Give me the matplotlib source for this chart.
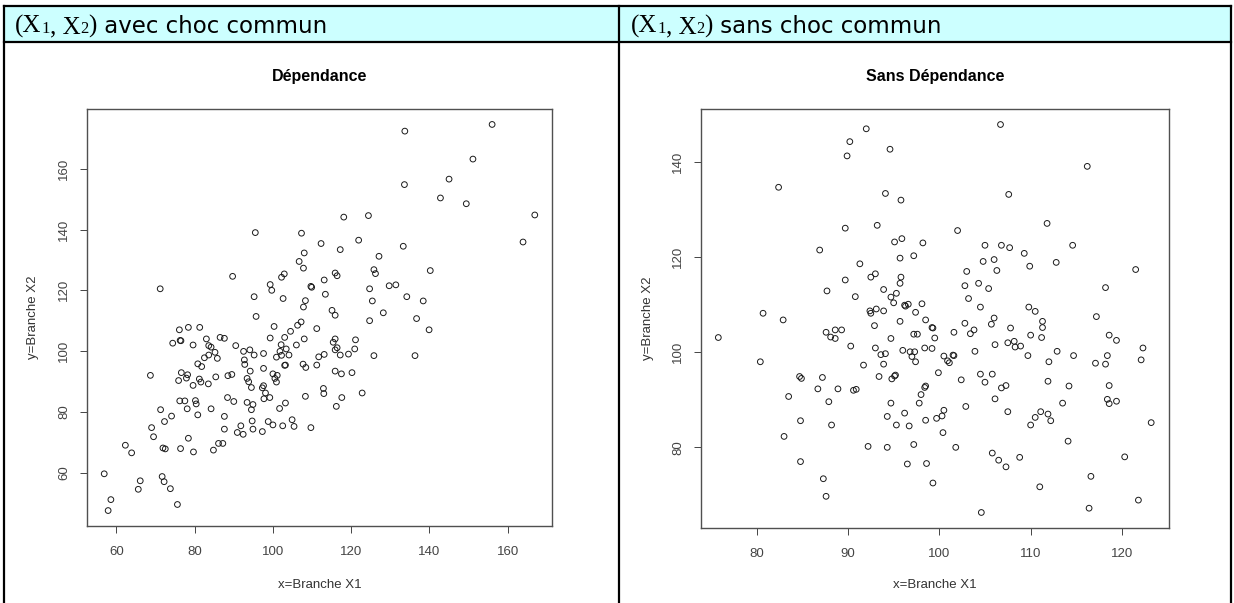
import matplotlib.pyplot as plt
from matplotlib.patches import Rectangle
from matplotlib.lines import Line2D

# Simulated branch amounts, with and without a common shock
dep_x = [108.0, 117.2, 127.1, 106.7, 107.8, 125.8, 126.2, 140.2, 115.9, 116.4, 102.9, 102.2,
         89.7, 99.3, 99.7, 109.7, 109.9, 113.1, 129.7, 131.4, 124.7, 71.2, 113.4, 95.2,
         102.6, 134.2, 108.3, 107.8, 125.4, 138.4, 115.1, 115.9, 128.2, 95.7, 136.7, 124.7,
         107.2, 106.3, 100.3, 104.5, 111.2, 139.9, 76.1, 78.4, 81.3, 76.3, 76.5, 74.4,
         79.6, 83.0, 86.5, 87.6, 83.6, 84.2, 90.5, 99.3, 103.0, 108.0, 115.9, 115.4,
         121.1, 106.0, 102.1, 103.4, 115.9, 116.4, 120.9, 94.1, 92.5, 85.2, 83.6, 82.5,
         85.8, 95.2, 97.6, 101.8, 100.9, 102.2, 104.1, 113.1, 111.7, 117.2, 119.3, 125.8,
         136.3, 92.7, 92.8, 80.8, 81.8, 97.6, 103.0, 103.2, 107.7, 108.4, 111.2, 94.2,
         115.9, 117.5, 120.2, 68.7, 76.6, 78.2, 77.9, 75.9, 81.2, 81.6, 79.6, 83.5,
         85.4, 88.5, 89.5, 93.4, 93.8, 100.0, 101.1, 100.5, 100.9, 94.5, 97.6, 97.3,
         98.1, 112.9, 113.0, 122.8, 108.3, 117.6, 88.4, 99.2, 97.7,
         95.5, 107.3, 112.3, 156.0, 133.7, 151.1, 145.0, 133.6, 142.8, 149.4, 166.9, 118.1,
         124.4, 163.9, 121.9, 133.3, 116.2, 109.7,
         76.2, 77.5, 80.2, 80.4, 78.1, 80.8, 84.2, 71.3, 72.3, 74.1, 69.0, 69.5,
         78.4, 76.4, 79.7, 71.9, 72.5, 62.3, 63.9, 56.9, 71.7, 72.2, 66.1, 65.6,
         73.8, 75.6, 58.6, 57.9, 87.6, 87.6, 84.8, 86.1, 87.2, 90.0, 90.9, 91.8,
         92.4, 93.4, 94.5, 94.9, 94.7, 94.9, 97.3, 98.8, 100.0, 101.7, 102.5, 103.2,
         104.9, 105.4]
dep_y = [132.3, 133.4, 131.2, 129.5, 127.3, 126.8, 125.5, 126.5, 125.7, 124.8, 125.4, 124.3,
         124.6, 121.9, 120.0, 121.3, 121.0, 123.4, 121.5, 121.8, 120.5, 120.5, 118.7, 117.9,
         117.3, 117.9, 116.6, 114.5, 116.5, 116.5, 113.4, 111.8, 112.6, 111.4, 110.7, 110.0,
         109.6, 108.5, 108.1, 106.5, 107.4, 107.0, 107.0, 107.8, 107.8, 103.5, 103.4, 102.6,
         102.0, 104.0, 104.5, 104.2, 101.8, 101.3, 101.8, 104.3, 104.5, 104.0, 104.0, 102.9,
         103.7, 102.0, 102.1, 100.7, 100.4, 101.1, 100.7, 100.4, 99.9, 99.6, 98.7, 97.8,
         97.6, 98.7, 99.2, 99.9, 98.0, 98.6, 98.7, 98.9, 98.1, 98.7, 99.0, 98.5,
         98.5, 97.1, 95.6, 95.8, 94.9, 94.3, 95.3, 95.4, 95.7, 94.6, 95.4, 93.4,
         93.4, 92.5, 92.9, 92.0, 92.9, 92.2, 91.1, 90.3, 90.8, 89.8, 88.7, 89.2,
         91.5, 91.9, 92.3, 91.0, 89.9, 92.5, 92.0, 91.0, 89.8, 88.0, 88.6, 87.9,
         86.2, 87.7, 86.0, 86.2, 85.1, 84.7, 84.7, 84.7, 84.3,
         139.0, 138.8, 135.4, 174.6, 172.4, 163.2, 156.6, 154.8, 150.4, 148.5, 144.8, 144.1,
         144.6, 135.9, 136.5, 134.5, 81.8, 74.8,
         83.6, 83.6, 83.7, 82.6, 81.0, 79.0, 81.0, 80.7, 76.8, 78.6, 74.8, 71.8,
         71.3, 67.9, 66.8, 68.1, 67.8, 69.0, 66.5, 59.6, 58.7, 57.0, 57.3, 54.5,
         54.7, 49.5, 51.1, 47.5, 78.5, 74.3, 67.4, 69.6, 69.6, 83.4, 73.2, 75.4,
         72.6, 83.1, 80.7, 82.4, 77.0, 74.3, 73.5, 76.8, 75.7, 81.1, 75.4, 82.9,
         77.4, 75.2]

indep_x = [86.9, 95.1, 95.9, 98.2, 95.7, 97.2, 91.3, 105.0, 106.8, 107.7, 109.3, 114.6,
           104.8, 106.0, 109.9, 112.8, 106.3, 103.0, 93.0, 92.5, 89.7, 95.8, 95.7, 102.8,
           104.3, 105.4, 87.7, 93.9, 95.3, 94.7, 90.8, 103.2, 95.0, 96.2, 96.3, 96.6,
           98.1, 93.1, 92.4, 92.5, 93.9, 97.4, 104.5, 109.8, 110.5, 95.7, 98.5, 102.8,
           106.0, 105.7, 111.3, 111.3, 117.2, 92.9, 99.2, 99.3, 107.8, 103.8, 103.4, 101.6,
           87.6, 88.1, 88.6, 88.6, 89.3, 97.2, 97.6, 99.5, 94.7, 110.0, 111.2, 90.3,
           93.0, 98.4, 99.2, 96.0, 96.8, 97.3, 97.0, 97.4, 93.6, 94.1, 93.9, 91.7,
           103.9, 106.1, 107.5, 108.2, 108.3, 108.9, 109.7, 112.9, 114.7, 112.0, 117.1, 100.5,
           100.9, 101.1, 101.5, 101.6, 99.9, 102.4, 104.5, 105.8, 93.4, 94.8, 95.2, 95.1,
           87.2, 84.7, 84.9,
           86.7, 88.9, 90.6, 90.9, 105.0, 111.9, 114.2, 106.8, 107.3, 98.4, 98.5, 98.0,
           97.8, 87.9, 94.7, 84.8, 94.3, 96.2, 95.3, 96.7, 98.5, 99.7, 100.3, 100.5,
           88.2, 102.9, 106.1, 107.5, 110.0, 110.5, 111.1, 111.9, 112.2, 113.5, 100.4, 101.8,
           92.2, 94.3, 97.2, 114.1, 105.8, 106.5, 107.3, 108.8, 96.5, 98.6, 99.3, 87.3,
           87.6, 111.0, 116.6, 104.6, 116.4, 84.8,
           75.8, 82.9, 80.4, 83.5, 83.0, 80.7,
           92.0, 90.2, 89.9, 94.6, 82.4, 94.1, 95.8, 89.7, 93.2, 106.7, 116.2, 107.6,
           111.8, 102.0,
           121.5, 118.2, 118.6, 119.4, 118.2, 118.4, 122.3, 122.1, 118.6, 118.4, 118.6, 119.4,
           123.2, 120.3, 121.8]
indep_y = [121.5, 123.2, 123.9, 123.0, 119.8, 120.3, 118.6, 122.5, 122.5, 122.0, 120.8, 122.5,
           119.1, 119.5, 118.1, 118.9, 117.2, 117.0, 116.5, 115.8, 115.2, 115.8, 114.5, 114.0,
           114.5, 113.4, 112.9, 113.2, 112.4, 111.6, 111.7, 111.3, 110.4, 109.9, 109.7, 110.1,
           110.2, 109.1, 108.7, 108.2, 108.7, 108.4, 109.5, 109.5, 108.6, 106.5, 106.8, 106.1,
           107.2, 105.9, 106.5, 105.2, 107.5, 105.6, 105.2, 105.1, 105.1, 104.7, 103.9, 104.2,
           104.2, 103.2, 102.9, 104.7, 104.7, 103.8, 103.8, 103.0, 102.9, 103.6, 103.1, 101.3,
           100.9, 100.9, 100.8, 100.4, 100.1, 100.1, 99.1, 98.0, 99.5, 99.7, 97.5, 97.3,
           100.2, 101.6, 102.0, 102.3, 101.1, 101.3, 99.3, 100.2, 99.3, 98.0, 97.7, 99.2,
           98.2, 97.8, 99.4, 99.3, 95.7, 94.2, 95.4, 95.4, 94.9, 94.4, 95.2, 95.0,
           94.7, 94.9, 94.5,
           92.3, 92.3, 92.0, 92.2, 93.7, 93.9, 92.9, 92.5, 93.0, 92.6, 92.9, 91.1,
           89.3, 89.6, 89.3, 85.6, 86.5, 87.2, 84.7, 84.5, 85.7, 86.1, 86.6, 87.8,
           84.7, 88.6, 90.2, 87.5, 84.7, 86.3, 87.5, 87.0, 85.6, 89.3, 83.1, 80.0,
           80.2, 80.0, 80.6, 81.3, 78.8, 77.3, 75.9, 77.9, 76.5, 76.6, 72.5, 73.4,
           69.7, 71.7, 73.9, 66.3, 67.2, 77.0,
           103.1, 106.8, 98.0, 90.7, 82.3, 108.2,
           147.0, 144.3, 141.3, 142.7, 134.7, 133.4, 132.0, 126.1, 126.7, 147.9, 139.1, 133.2,
           127.1, 125.6,
           117.4, 113.6, 103.6, 102.5, 97.5, 99.3, 100.9, 98.4, 93.0, 90.1, 89.2, 89.7,
           85.2, 78.0, 68.9]

W, H = 1234, 603
plt.rcParams['font.family'] = 'Liberation Sans'

fig = plt.figure(figsize=(W / 100, H / 100), dpi=100)
renderer = fig.canvas.get_renderer()


def fx(px):
    return px / W


def fy(py):
    return 1 - py / H


# table: header band and borders
fig.patches.append(Rectangle((fx(4), fy(42)), fx(1231) - fx(4), fy(6) - fy(42),
                             transform=fig.transFigure, facecolor='#ccffff',
                             edgecolor='none', zorder=0))
for xs_, ys_ in [([4, 1231], [6, 6]), ([4, 1231], [42, 42]),
                 ([4, 4], [6, 603]), ([619, 619], [6, 603]), ([1231, 1231], [6, 603])]:
    fig.add_artist(Line2D([fx(v) for v in xs_], [fy(v) for v in ys_],
                          transform=fig.transFigure, color='black', lw=1.6))


def header(x0, words):
    # "(X1, X2)" in a serif face with small digits, then the sans caption
    pieces = [('(X', 18, 'Liberation Serif'), ('1', 12, 'Liberation Serif'),
              (', X', 18, 'Liberation Serif'), ('2', 12, 'Liberation Serif'),
              (')', 18, 'Liberation Serif'), (' ' + words, 16.5, 'DejaVu Sans')]
    x = x0
    for txt, size, fam in pieces:
        t = fig.text(fx(x), fy(33), txt, fontsize=size, family=fam,
                     ha='left', va='baseline')
        x += t.get_window_extent(renderer).width


header(15, 'avec choc commun')
header(631, 'sans choc commun')


def panel(box, xs, ys, title, xticks, yticks, ylab_x):
    l, t, r, b = box
    ax = fig.add_axes([fx(l), fy(b), fx(r) - fx(l), fy(t) - fy(b)])
    ax.scatter(xs, ys, s=17, facecolors='none', edgecolors='#1a1a1a', linewidths=0.7)
    rx = max(xs) - min(xs)
    ry = max(ys) - min(ys)
    ax.set_xlim(min(xs) - 0.04 * rx, max(xs) + 0.04 * rx)
    ax.set_ylim(min(ys) - 0.04 * ry, max(ys) + 0.04 * ry)
    ax.set_xticks(xticks)
    ax.set_yticks(yticks)
    ax.tick_params(direction='out', length=5, width=0.7, color='#444444',
                   labelsize=9.5, labelcolor='#444444')
    ax.tick_params(axis='x', pad=9.5)
    ax.tick_params(axis='y', pad=7)
    for lbl in ax.get_yticklabels():
        lbl.set_rotation(90)
        lbl.set_va('center')
    for sp in ax.spines.values():
        sp.set_color('#505050')
        sp.set_linewidth(1.0)
    ax.set_xlabel('x=Branche X1', fontsize=9.5, color='#333333')
    ax.xaxis.set_label_coords(0.5, -(585 - b) / (b - t))
    ax.xaxis.label.set_va('center')
    ax.set_ylabel('y=Branche X2', fontsize=9.5, color='#333333')
    ax.yaxis.set_label_coords((ylab_x - l) / (r - l), 0.5)
    ax.yaxis.label.set_va('center')
    ax.text(0.5, 1 + (t - 77) / (b - t), title, transform=ax.transAxes,
            ha='center', va='center', fontsize=11.5, fontweight='bold')
    return ax


panel((87, 109, 552, 526), dep_x, dep_y, 'Dépendance',
      [60, 80, 100, 120, 140, 160], [60, 80, 100, 120, 140, 160], 33)
panel((701, 109, 1168.5, 528), indep_x, indep_y, 'Sans Dépendance',
      [80, 90, 100, 110, 120], [80, 100, 120, 140], 648)

fig.savefig('out.png', dpi=100)
